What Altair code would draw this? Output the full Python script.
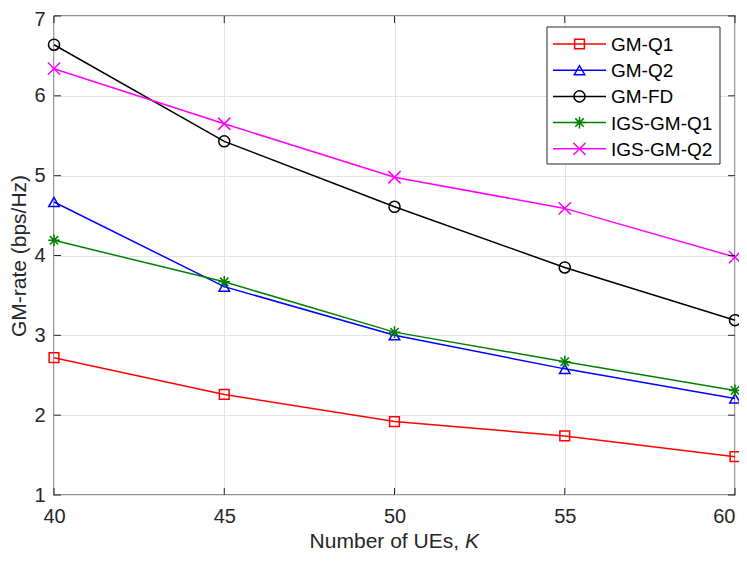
import altair as alt
import pandas as pd

# ---- data ----
K = [40, 45, 50, 55, 60]
series_names = ["GM-Q1", "GM-Q2", "GM-FD", "IGS-GM-Q1", "IGS-GM-Q2"]
gm_q1 = [2.72, 2.26, 1.92, 1.74, 1.48]
gm_q2 = [4.67, 3.61, 3.00, 2.58, 2.21]
gm_fd = [6.64, 5.43, 4.61, 3.85, 3.19]
igs_gm_q1 = [4.19, 3.67, 3.04, 2.67, 2.31]
igs_gm_q2 = [6.34, 5.65, 4.98, 4.59, 3.98]
x_ticks = [40, 45, 50, 55, 60]
y_ticks = [1, 2, 3, 4, 5, 6, 7]

# ---- styles ----
colors = ["#ff0000", "#0000ff", "#000000", "#008000", "#ff00ff"]
shapes = [
    "square",
    "triangle-up",
    "circle",
    "M0,-1L0,1M-1,0L1,0M-0.72,-0.72L0.72,0.72M-0.72,0.72L0.72,-0.72",
    "M-1,-1L1,1M-1,1L1,-1",
]
sizes = [95, 150, 144, 125, 72]
FONT = "Liberation Sans"
TOP = 16
W, H = 681, 479
TXT = "#262626"

vals = [gm_q1, gm_q2, gm_fd, igs_gm_q1, igs_gm_q2]
rows = []
for name, v in zip(series_names, vals):
    for k, y in zip(K, v):
        rows.append({"K": k, "rate": y, "series": name})
df = pd.DataFrame(rows)

xscale = alt.Scale(domain=[40, 60], nice=False, zero=False)
yscale = alt.Scale(domain=[1, 7], nice=False, zero=False)
cscale = alt.Scale(domain=series_names, range=colors)
sscale = alt.Scale(domain=series_names, range=shapes)
zscale = alt.Scale(domain=series_names, range=sizes)

base = alt.Chart(df)

lines = base.mark_line(strokeWidth=1.5).encode(
    x=alt.X("K:Q", scale=xscale,
            axis=alt.Axis(values=x_ticks, format="d", title=None, grid=True,
                          tickSize=0, labelPadding=11, domain=False,
                          labelFlush=False,
                          labelAlign={"condition": {"test": "datum.value >= 60",
                                                    "value": "right"},
                                      "value": "center"})),
    y=alt.Y("rate:Q", scale=yscale,
            axis=alt.Axis(values=y_ticks, format="d", title="GM-rate (bps/Hz)",
                          grid=True, tickSize=0, labelPadding=9, titlePadding=4,
                          domain=False, labelFlush=False,
                          labelOffset={"condition": {"test": "datum.value >= 7",
                                                     "value": 3},
                                       "value": 0})),
    color=alt.Color("series:N", scale=cscale, legend=None),
    detail="series:N",
)

points = base.mark_point(filled=False, strokeWidth=1.5, opacity=1).encode(
    x=alt.X("K:Q", scale=xscale),
    y=alt.Y("rate:Q", scale=yscale),
    color=alt.Color("series:N", scale=cscale, legend=None),
    shape=alt.Shape("series:N", scale=sscale, legend=None),
    size=alt.Size("series:N", scale=zscale, legend=None),
)

# inward ticks on all four sides
xt = alt.Chart(pd.DataFrame({"v": x_ticks}))
yt = alt.Chart(pd.DataFrame({"v": y_ticks}))
tick_len = 7
xt_bottom = xt.mark_rule(color=TXT, strokeWidth=1).encode(
    x=alt.X("v:Q", scale=xscale), y=alt.value(H), y2=alt.value(H - tick_len))
xt_top = xt.mark_rule(color=TXT, strokeWidth=1).encode(
    x=alt.X("v:Q", scale=xscale), y=alt.value(0), y2=alt.value(tick_len))
yt_left = yt.mark_rule(color=TXT, strokeWidth=1).encode(
    y=alt.Y("v:Q", scale=yscale), x=alt.value(0), x2=alt.value(tick_len))
yt_right = yt.mark_rule(color=TXT, strokeWidth=1).encode(
    y=alt.Y("v:Q", scale=yscale), x=alt.value(W), x2=alt.value(W - tick_len))

# x axis title with italic K
cx = 405
ty = 548 - TOP
title_a = alt.Chart(pd.DataFrame({"t": ["Number of UEs,"]})).mark_text(
    font=FONT, fontSize=21, color=TXT, align="right", baseline="alphabetic"
).encode(text="t:N", x=alt.value(cx), y=alt.value(ty))
title_b = alt.Chart(pd.DataFrame({"t": ["K"]})).mark_text(
    font=FONT, fontSize=21, color=TXT, align="left", baseline="alphabetic",
    fontStyle="italic"
).encode(text="t:N", x=alt.value(cx + 6), y=alt.value(ty))

# manual legend (box, line samples, markers, labels)
lx0, lx1 = 493, 666
ly0, ly1 = 27 - TOP, 164 - TOP
leg_y = [44 - TOP + 26.2 * i for i in range(len(series_names))]
leg = pd.DataFrame({
    "series": series_names,
    "ly": leg_y,
    "lxa": [499] * 5,
    "lxb": [552] * 5,
    "lxm": [525.5] * 5,
    "lxt": [557] * 5,
})
legbox = alt.Chart(pd.DataFrame({"a": [0]})).mark_rect(
    fill="white", stroke=TXT, strokeWidth=1
).encode(x=alt.value(lx0), x2=alt.value(lx1), y=alt.value(ly0), y2=alt.value(ly1))
lg = alt.Chart(leg)
leg_lines = lg.mark_rule(strokeWidth=1.5).encode(
    x=alt.X("lxa:Q", scale=None), x2="lxb:Q", y=alt.Y("ly:Q", scale=None),
    color=alt.Color("series:N", scale=cscale, legend=None))
leg_pts = lg.mark_point(filled=False, strokeWidth=1.5, opacity=1).encode(
    x=alt.X("lxm:Q", scale=None), y=alt.Y("ly:Q", scale=None),
    color=alt.Color("series:N", scale=cscale, legend=None),
    shape=alt.Shape("series:N", scale=sscale, legend=None),
    size=alt.Size("series:N", scale=zscale, legend=None))
leg_txt = lg.mark_text(font=FONT, fontSize=19, color="#000000", align="left",
                       baseline="middle", dy=1).encode(
    x=alt.X("lxt:Q", scale=None), y=alt.Y("ly:Q", scale=None), text="series:N")

chart = alt.layer(
    lines, points, xt_bottom, xt_top, yt_left, yt_right,
    legbox, leg_lines, leg_pts, leg_txt, title_a, title_b
).properties(
    width=W, height=H,
    autosize=alt.AutoSizeParams(type="none"),
    padding={"left": 46, "top": TOP - 8, "right": 4, "bottom": 561 - 8 - TOP - H},
    background="white",
).configure_view(
    stroke=TXT, strokeWidth=1.3
).configure_axis(
    labelFont=FONT, titleFont=FONT, labelFontSize=20, titleFontSize=21,
    labelColor=TXT, titleColor=TXT, titleFontWeight="normal",
    gridColor="#e3e3e3", gridWidth=1, gridOpacity=1,
)

chart.save("out.html", embed_options={"renderer": "svg", "actions": False})
